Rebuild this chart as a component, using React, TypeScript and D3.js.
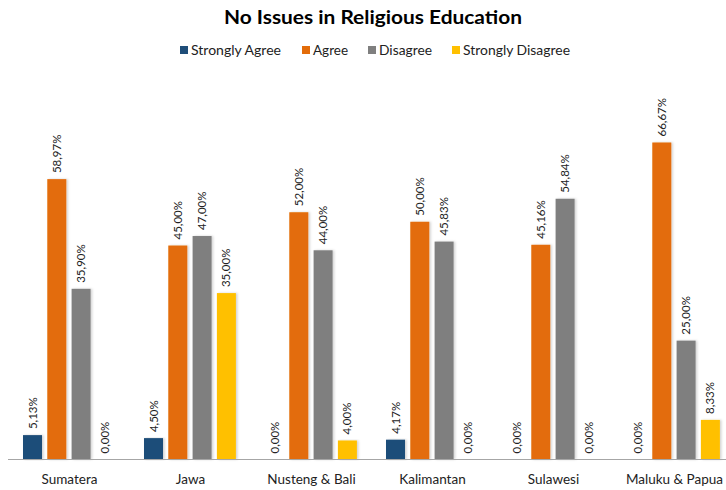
import React from "react";
import * as d3 from "d3";

const categories = ["Sumatera", "Jawa", "Nusteng & Bali", "Kalimantan", "Sulawesi", "Maluku & Papua"];
const seriesNames = ["Strongly Agree", "Agree", "Disagree", "Strongly Disagree"];
const stronglyAgree = [5.13, 4.5, 0, 4.17, 0, 0];
const agree = [58.97, 45.0, 52.0, 50.0, 45.16, 66.67];
const disagree = [35.9, 47.0, 44.0, 45.83, 54.84, 25.0];
const stronglyDisagree = [0, 35.0, 4.0, 0, 0, 8.33];
const colors = ["#1F4E79", "#E36C09", "#7F7F7F", "#FFC000"];
const title = "No Issues in Religious Education";

const W = 726;
const H = 490;
const FONT = "Lato, 'Open Sans', sans-serif";

export default function App() {
  const values = [stronglyAgree, agree, disagree, stronglyDisagree];
  const baseline = 459.5;
  const y = d3.scaleLinear().domain([0, 66.67]).range([baseline, 142.5]);
  const x0 = d3.scaleBand<string>().domain(categories).range([8.5, 734.5]).padding(0);
  const x1 = d3.scaleBand<string>().domain(seriesNames).range([14.5, 106.4]).paddingInner(0.218).paddingOuter(0);
  const fmt = (v: number) => v.toFixed(2).replace(".", ",") + "%";

  const legendItems = [
    { sq: 180, tx: 191, w: 90 },
    { sq: 302, tx: 313, w: 35 },
    { sq: 368, tx: 379, w: 53 },
    { sq: 452, tx: 463, w: 107 },
  ];

  return (
    <svg width={W} height={H} style={{ position: "absolute", left: 0, top: 0, background: "#fff" }}>
      <defs>
        <filter id="sh" x="-20%" y="-5%" width="150%" height="110%">
          <feDropShadow dx="1.5" dy="0" stdDeviation="1" floodColor="#000" floodOpacity="0.18" />
        </filter>
      </defs>
      <rect width={W} height={H} fill="#fff" />
      <text x={373} y={24} textAnchor="middle" fontFamily={FONT} fontWeight="bold" fontSize={19} fill="#000"
        textLength={298} lengthAdjust="spacingAndGlyphs">{title}</text>
      {seriesNames.map((s, i) => (
        <g key={s}>
          <rect x={legendItems[i].sq} y={46} width={8} height={8} fill={colors[i]} />
          <text x={legendItems[i].tx} y={55} fontFamily={FONT} fontSize={13.5} fill="#222"
            textLength={legendItems[i].w} lengthAdjust="spacingAndGlyphs">{s}</text>
        </g>
      ))}
      {categories.map((c, ci) => (
        <g key={c} transform={`translate(${x0(c)},0)`}>
          {seriesNames.map((s, si) => {
            const v = values[si][ci];
            const bx = x1(s)!;
            const bw = x1.bandwidth();
            const top = y(v);
            return (
              <g key={s}>
                {v > 0 && (
                  <rect x={bx} y={top} width={bw} height={baseline - top} fill={colors[si]} filter="url(#sh)" />
                )}
                <text transform={`translate(${bx + bw / 2 + 4},${top - 6}) rotate(-90)`} fontFamily={FONT}
                  fontSize={11.5} fill="#222">{fmt(v)}</text>
              </g>
            );
          })}
          <text x={x0.bandwidth() / 2 + 0.5} y={484} textAnchor="middle" fontFamily={FONT} fontSize={13.5} fill="#222">{c}</text>
        </g>
      ))}
      <line x1={8} x2={W} y1={baseline} y2={baseline} stroke="#a6a6a6" strokeWidth={1} />
    </svg>
  );
}
